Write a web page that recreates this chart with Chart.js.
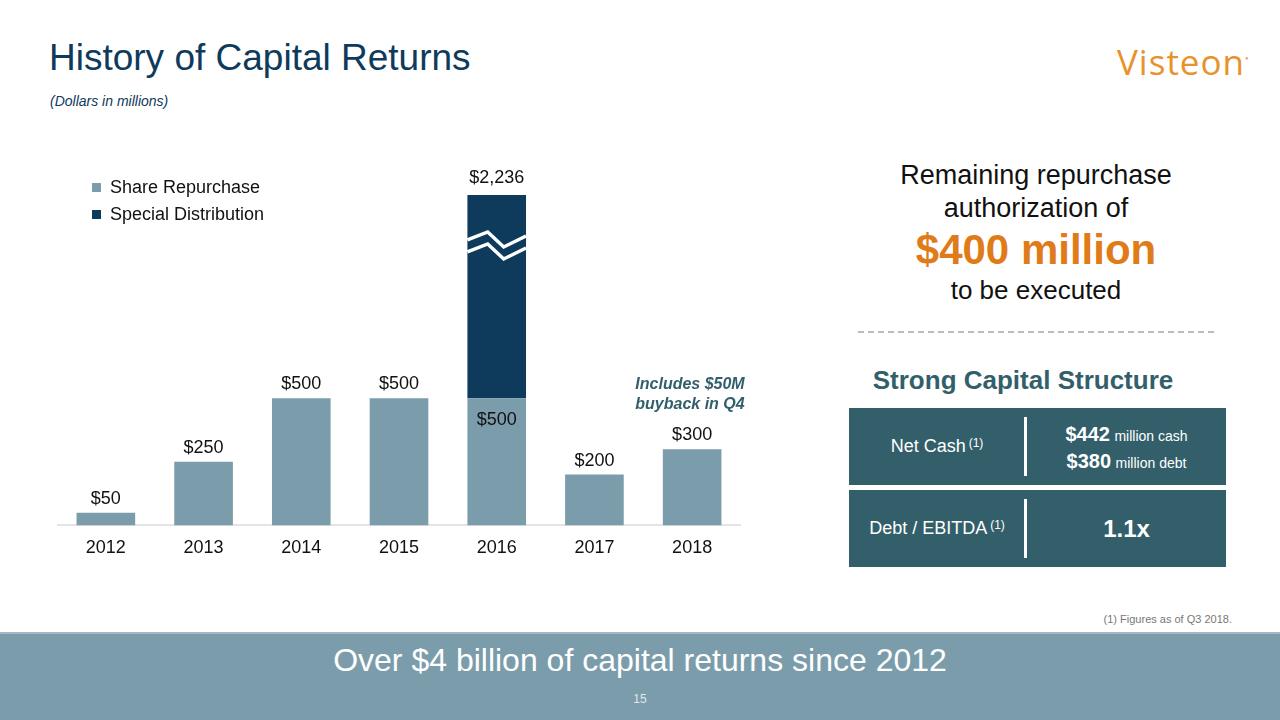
<!DOCTYPE html>
<html>
<head>
<meta charset="utf-8">
<script src="https://cdn.jsdelivr.net/npm/chart.js@4"></script>
<style>
  body { margin: 0; width: 1280px; height: 720px; position: relative; overflow: hidden; background: #fff; font-family: Arial, "Liberation Sans", sans-serif; }
  .abs { position: absolute; }
  #title { left: 49px; top: 37px; font-size: 37px; color: #0e3a5c; }
  #subtitle { left: 50px; top: 93px; font-size: 14px; font-style: italic; color: #0e3a5c; }
  #logo { left: 1117px; top: 38px; font-family: "Open Sans", sans-serif; font-size: 35px; color: #e8922c; letter-spacing: 1px; }
  #logo sup { font-size: 6px; vertical-align: top; position: relative; top: 16px; color: #e8a960; }
  #chartBox { left: 57px; top: 152px; width: 684px; height: 419px; }
  #legend { left: 92px; top: 174px; font-size: 18px; color: #111; }
  #legend div { height: 27px; display: flex; align-items: center; }
  #legend span.sw { width: 9px; height: 9px; margin-right: 9px; display: inline-block; }
  #note { left: 600px; top: 374px; width: 180px; text-align: center; font-size: 16px; font-weight: bold; font-style: italic; color: #335f6b; line-height: 20px; }
  #remain { left: 840px; top: 159px; width: 392px; text-align: center; color: #111; }
  #dash { left: 858px; top: 331px; width: 356px; border-top: 2px dashed #bcbcbc; }
  #strong { left: 823px; top: 365px; width: 400px; text-align: center; font-size: 26px; font-weight: bold; color: #335f6b; }
  .row { left: 849px; width: 377px; height: 77px; background: #335f6b; color: #fff; }
  .row .l { position: absolute; left: 0; width: 176px; top: 0; height: 100%; display: flex; align-items: center; justify-content: center; font-size: 18px; }
  .row .l sup { font-size: 12px; margin-left: 3px; position: relative; top: -4px; }
  .row .bar { position: absolute; left: 175px; width: 3px; top: 9px; bottom: 9px; background: #fff; }
  .row .r { position: absolute; left: 178px; right: 0; top: 0; height: 100%; display: flex; flex-direction: column; align-items: center; justify-content: center; }
  #foot { left: 1000px; top: 613px; width: 232px; text-align: right; font-size: 11px; color: #777; }
  #band { left: 0; top: 632px; width: 1280px; height: 88px; background: #7b9dab; border-top: 2px solid #9fb8c3; box-sizing: border-box; }
  #bandText { left: 0; top: 642px; width: 1280px; text-align: center; font-size: 32px; color: #fff; }
  #page { left: 0; top: 692px; width: 1280px; text-align: center; font-size: 12px; color: #dfe8ec; }
</style>
</head>
<body>
<div id="title" class="abs">History of Capital Returns</div>
<div id="subtitle" class="abs">(Dollars in millions)</div>
<div id="logo" class="abs">Visteon<sup>●</sup></div>

<div id="chartBox" class="abs"><canvas id="capital-chart"></canvas></div>
<div id="legend" class="abs"></div>
<div id="note" class="abs">Includes $50M<br>buyback in Q4</div>

<div id="remain" class="abs">
  <div style="font-size:27px;line-height:33px;">Remaining repurchase<br>authorization of</div>
  <div style="font-size:42px;font-weight:bold;color:#e07b1a;line-height:50px;">$400 million</div>
  <div style="font-size:26px;line-height:31px;">to be executed</div>
</div>
<div id="dash" class="abs"></div>
<div id="strong" class="abs">Strong Capital Structure</div>
<div class="abs row" style="top:408px;">
  <div class="l">Net Cash<sup>(1)</sup></div>
  <div class="bar"></div>
  <div class="r" style="padding-top:4px;box-sizing:border-box;">
    <div style="line-height:25px;"><b style="font-size:20px;">$442</b> <span style="font-size:14px;">million cash</span></div>
    <div style="line-height:25px;"><b style="font-size:20px;">$380</b> <span style="font-size:14px;">million debt</span></div>
  </div>
</div>
<div class="abs row" style="top:490px;">
  <div class="l">Debt / EBITDA<sup>(1)</sup></div>
  <div class="bar"></div>
  <div class="r"><b style="font-size:24px;">1.1x</b></div>
</div>
<div id="foot" class="abs">(1) Figures as of Q3 2018.</div>

<div id="band" class="abs"></div>
<div id="bandText" class="abs">Over $4 billion of capital returns since 2012</div>
<div id="page" class="abs">15</div>

<script>
const years = ['2012', '2013', '2014', '2015', '2016', '2017', '2018']
const shareRepurchase = [50, 250, 500, 500, 500, 200, 300]
const specialDistribution = [0, 0, 0, 0, 1736, 0, 0]
// the special distribution bar is drawn with an axis break, shown up to this height
const breakCap = 800

const shareColor = '#7b9dab'
const specialColor = '#0e3a5c'

const capitalCanvas = document.getElementById('capital-chart')

const money = v => '$' + v.toLocaleString('en-US')

// value labels above bars + axis break zigzag on the tall bar
const barLabels = {
    id: 'barLabels',
    afterDatasetsDraw(chart) {
        const ctx = chart.ctx
        const shareBars = chart.getDatasetMeta(0).data
        const specialBars = chart.getDatasetMeta(1).data
        ctx.save()
        ctx.font = '18px Arial, "Liberation Sans", sans-serif'
        ctx.fillStyle = '#111'
        ctx.textAlign = 'center'
        shareBars.forEach((bar, i) => {
            if (specialDistribution[i] > 0) {
                const top = specialBars[i]
                const half = top.width / 2
                // break zigzag
                ctx.strokeStyle = '#fff'
                ctx.lineWidth = 3.5
                ;[0, 12].forEach(off => {
                    const y0 = top.y + 45 + off
                    ctx.beginPath()
                    ctx.moveTo(top.x - half, y0)
                    ctx.lineTo(top.x - 9, y0 - 8)
                    ctx.lineTo(top.x + 7, y0 + 7)
                    ctx.lineTo(top.x + half, y0 - 4)
                    ctx.stroke()
                })
                ctx.textBaseline = 'bottom'
                ctx.fillText(money(shareRepurchase[i] + specialDistribution[i]), top.x, top.y - 8)
                ctx.textBaseline = 'middle'
                ctx.fillText(money(shareRepurchase[i]), bar.x, bar.y + 22)
            } else {
                ctx.textBaseline = 'bottom'
                ctx.fillText(money(shareRepurchase[i]), bar.x, bar.y - 5)
            }
        })
        ctx.restore()
    }
}

let capitalData = {
    labels: years,
    datasets: [{
        label: 'Share Repurchase',
        data: shareRepurchase,
        backgroundColor: shareColor,
    }, {
        label: 'Special Distribution',
        data: specialDistribution.map(v => v > 0 ? Math.min(v, breakCap) : null),
        backgroundColor: specialColor,
    }]
}

let capitalOptions = {
    responsive: true,
    maintainAspectRatio: false,
    animation: false,
    layout: { padding: 0 },
    datasets: {
        bar: { categoryPercentage: 1, barPercentage: 0.6 }
    },
    plugins: {
        legend: { display: false },
        tooltip: { enabled: false }
    },
    scales: {
        x: {
            stacked: true,
            grid: { display: false, drawTicks: false },
            border: { display: true, color: '#e4e4e4', width: 2 },
            ticks: {
                padding: 12,
                color: '#111',
                font: { size: 18, family: 'Arial, "Liberation Sans", sans-serif' }
            }
        },
        y: {
            stacked: true,
            display: false,
            min: 0,
            max: 1469
        }
    }
}

let barChart = new Chart(capitalCanvas, {
    type: 'bar',
    data: capitalData,
    options: capitalOptions,
    plugins: [barLabels]
})

// legend from the chart's own datasets
const legendBox = document.getElementById('legend')
capitalData.datasets.forEach(ds => {
    const row = document.createElement('div')
    row.innerHTML = '<span class="sw" style="background:' + ds.backgroundColor + '"></span>' + ds.label
    legendBox.appendChild(row)
})
</script>
</body>
</html>
